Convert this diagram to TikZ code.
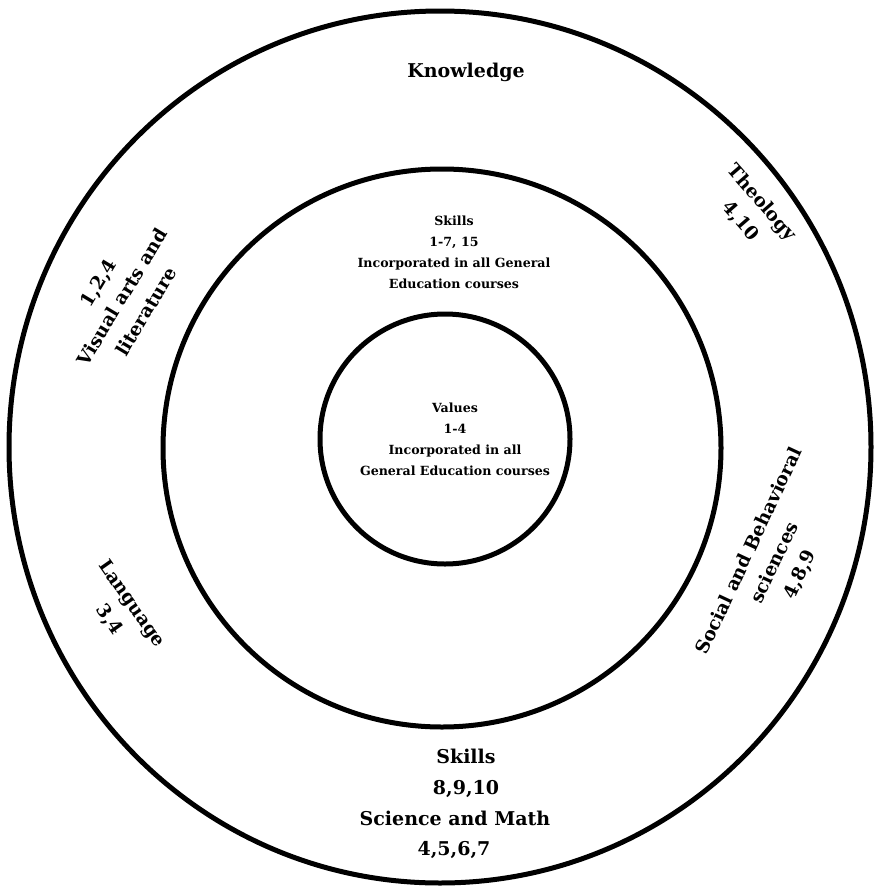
\documentclass[tikz,border=0pt]{standalone}
\usepackage{fontspec}
\setmainfont{DejaVu Serif}
\begin{document}
\begin{tikzpicture}[x=1pt,y=-1pt,
  ring/.style={draw, line width=5pt},
  big/.style={font=\fontsize{19}{31}\selectfont\bfseries, inner sep=0pt},
  rot/.style={font=\fontsize{18.5}{28}\selectfont\bfseries, align=center, inner sep=1pt},
  mid/.style={font=\fontsize{12.6}{21}\selectfont\bfseries, align=center}]
\useasboundingbox (0,0) rectangle (879,889);
\draw[ring] (440,447) ellipse [x radius=431, y radius=436];
\draw[ring] (442,448) circle [radius=279];
\draw[ring] (445,439) circle [radius=125];
\node[big, anchor=base] (know) at (466,77) {Knowledge};
\node[mid] (skin) at (454,252) {Skills\\1-7, 15\\Incorporated in all General\\Education courses};
\node[mid] (val) at (455,439) {Values\\1-4\\Incorporated in all\\General Education courses};
\node[rot, rotate=-49] (theo) at (751,212) {Theology\\4,10};
\node[rot, rotate=59] (vis) at (122,297) {1,2,4\\Visual arts and\\literature};
\node[rot, rotate=-55] (lang) at (120,612) {Language\\3,4};
\node[rot, rotate=65] (soc) at (775,563) {Social and Behavioral\\sciences\\4,8,9};
\node[big, anchor=base] (sk1) at (466,763) {Skills};
\node[big, anchor=base] (sk2) at (466,794) {8,9,10};
\node[big, anchor=base] (sk3) at (455,825) {Science and Math};
\node[big, anchor=base] (sk4) at (454,855) {4,5,6,7};
\end{tikzpicture}
\end{document}
